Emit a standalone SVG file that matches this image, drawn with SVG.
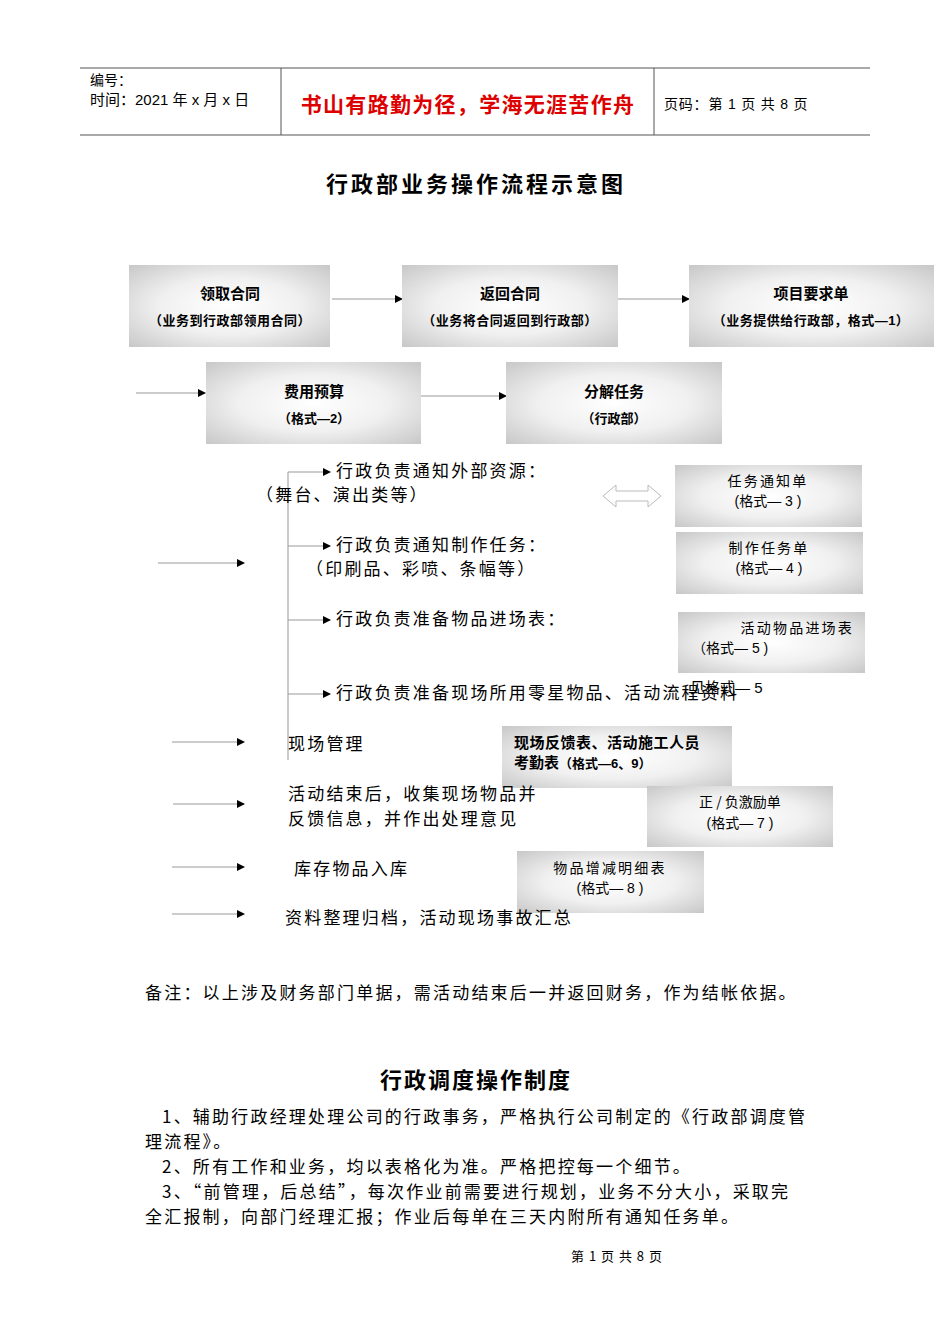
<svg xmlns="http://www.w3.org/2000/svg" width="950" height="1344" viewBox="0 0 950 1344">
<style>
text{font-family:"Noto Sans CJK SC","Liberation Serif",serif;fill:#000}
.t{letter-spacing:2.2px}
.b{font-weight:bold}
.s{font-family:"Liberation Sans","Noto Sans CJK SC",sans-serif}
.ln{stroke:#999;stroke-width:1;fill:none}
.box{fill:url(#g)}
</style>
<defs>
<radialGradient id="g" cx="0.5" cy="0.5" r="0.7">
<stop offset="0" stop-color="#ffffff"/><stop offset="0.5" stop-color="#f0f0f0"/><stop offset="1" stop-color="#c8c8c8"/>
</radialGradient>
<marker id="a" markerWidth="8" markerHeight="8" refX="7" refY="4" orient="auto" markerUnits="userSpaceOnUse"><path d="M0,0 L8,4 L0,8z" fill="#000"/></marker>
</defs>
<rect width="950" height="1344" fill="#fff"/>
<g id="header">
<line x1="80" y1="68" x2="870" y2="68" stroke="#555"/>
<line x1="80" y1="135" x2="870" y2="135" stroke="#555"/>
<line x1="281" y1="68" x2="281" y2="135" stroke="#555"/>
<line x1="654" y1="68" x2="654" y2="135" stroke="#555"/>
<text x="90" y="85" font-size="14" class="s">编号：</text>
<text x="90" y="105" font-size="15" class="s">时间：2021 年 x 月 x 日</text>
<text x="468" y="112" font-size="21" text-anchor="middle" class="s b" style="fill:#d00;letter-spacing:1.3px">书山有路勤为径，学海无涯苦作舟</text>
<text x="664" y="109" font-size="14" class="s" style="letter-spacing:0.8px">页码：第 1 页  共 8 页</text>
</g>
<text x="476" y="192" font-size="22" text-anchor="middle" class="s b" style="letter-spacing:3px">行政部业务操作流程示意图</text>
<g id="connectors">
<line class="ln" x1="332" y1="299" x2="402" y2="299" marker-end="url(#a)"/>
<line class="ln" x1="618" y1="299" x2="689" y2="299" marker-end="url(#a)"/>
<line class="ln" x1="136" y1="393" x2="205" y2="393" marker-end="url(#a)"/>
<line class="ln" x1="421" y1="396" x2="506" y2="396" marker-end="url(#a)"/>
<line class="ln" x1="288" y1="472" x2="288" y2="760"/>
<line class="ln" x1="288" y1="472" x2="330" y2="472" marker-end="url(#a)"/>
<line class="ln" x1="288" y1="546" x2="330" y2="546" marker-end="url(#a)"/>
<line class="ln" x1="288" y1="620" x2="330" y2="620" marker-end="url(#a)"/>
<line class="ln" x1="288" y1="694" x2="330" y2="694" marker-end="url(#a)"/>
<line class="ln" x1="158" y1="563" x2="244" y2="563" marker-end="url(#a)"/>
<line class="ln" x1="172" y1="742" x2="244" y2="742" marker-end="url(#a)"/>
<line class="ln" x1="173" y1="804" x2="244" y2="804" marker-end="url(#a)"/>
<line class="ln" x1="172" y1="867" x2="244" y2="867" marker-end="url(#a)"/>
<line class="ln" x1="172" y1="914" x2="244" y2="914" marker-end="url(#a)"/>
<path d="M603,496 L616,485 L616,491 L648,491 L648,485 L661,496 L648,507 L648,501 L616,501 L616,507 Z" fill="#fff" stroke="#bbb"/>
</g>
<g id="n1"><rect class="box" x="129" y="265" width="201" height="82"/><text x="230" y="299" font-size="15" text-anchor="middle" class="s b">领取合同</text><text x="230" y="325" font-size="13" text-anchor="middle" class="s b" style="letter-spacing:0.5px">（业务到行政部领用合同）</text></g>
<g id="n2"><rect class="box" x="402" y="265" width="216" height="82"/><text x="510" y="299" font-size="15" text-anchor="middle" class="s b">返回合同</text><text x="510" y="325" font-size="13" text-anchor="middle" class="s b" style="letter-spacing:0.5px">（业务将合同返回到行政部）</text></g>
<g id="n3"><rect class="box" x="689" y="265" width="245" height="82"/><text x="811" y="299" font-size="15" text-anchor="middle" class="s b">项目要求单</text><text x="811" y="325" font-size="13" text-anchor="middle" class="s b" style="letter-spacing:0.5px">（业务提供给行政部，格式—1）</text></g>
<g id="n4"><rect class="box" x="206" y="362" width="215" height="82"/><text x="314" y="397" font-size="15" text-anchor="middle" class="s b">费用预算</text><text x="314" y="423" font-size="13" text-anchor="middle" class="s b">（格式—2）</text></g>
<g id="n5"><rect class="box" x="506" y="362" width="216" height="82"/><text x="614" y="397" font-size="15" text-anchor="middle" class="s b">分解任务</text><text x="614" y="423" font-size="13" text-anchor="middle" class="s b">（行政部）</text></g>
<g id="t1"><text x="336" y="477" font-size="17" class="t">行政负责通知外部资源：</text><text x="256" y="501" font-size="17" class="t">（舞台、演出类等）</text></g>
<g id="t2"><text x="306" y="551" font-size="17" class="t"><tspan x="336">行政负责通知制作任务：</tspan></text><text x="306" y="575" font-size="17" class="t">（印刷品、彩喷、条幅等）</text></g>
<g id="t3"><text x="336" y="625" font-size="17" class="t">行政负责准备物品进场表：</text></g>
<g id="t4"><text x="336" y="699" font-size="17" class="t">行政负责准备现场所用零星物品、活动流程资料</text><text x="690" y="693" font-size="15" class="s">见格式— 5</text></g>
<g id="b3"><rect class="box" x="675" y="465" width="187" height="62"/><text x="768" y="486" font-size="14" text-anchor="middle" class="t">任务通知单</text><text x="768" y="506" font-size="14" text-anchor="middle" class="s">(格式— 3 )</text></g>
<g id="b4"><rect class="box" x="676" y="532" width="187" height="62"/><text x="769" y="553" font-size="14" text-anchor="middle" class="t">制作任务单</text><text x="769" y="573" font-size="14" text-anchor="middle" class="s">(格式— 4 )</text></g>
<g id="b5"><rect class="box" x="678" y="612" width="187" height="61"/><text x="854" y="633" font-size="14" text-anchor="end" class="t">活动物品进场表</text><text x="692" y="653" font-size="14" class="s">（格式— 5 )</text></g>
<g id="t5"><text x="288" y="750" font-size="17" class="t">现场管理</text></g>
<g id="b6"><rect class="box" x="502" y="726" width="230" height="62"/><text x="514" y="748" font-size="15" class="s b" style="letter-spacing:0.5px">现场反馈表、活动施工人员</text><text x="514" y="768" font-size="15" class="s b">考勤表<tspan font-size="13">（格式—6、9）</tspan></text></g>
<g id="t6"><text x="288" y="800" font-size="17" class="t">活动结束后，收集现场物品并</text><text x="288" y="825" font-size="17" class="t">反馈信息，并作出处理意见</text></g>
<g id="b7"><rect class="box" x="647" y="786" width="186" height="61"/><text x="740" y="807" font-size="14" text-anchor="middle">正 / 负激励单</text><text x="740" y="828" font-size="14" text-anchor="middle" class="s">(格式— 7 )</text></g>
<g id="t7"><text x="294" y="875" font-size="17" class="t">库存物品入库</text></g>
<g id="b8"><rect class="box" x="517" y="851" width="187" height="62"/><text x="610" y="873" font-size="14" text-anchor="middle" class="t">物品增减明细表</text><text x="610" y="893" font-size="14" text-anchor="middle" class="s">(格式— 8 )</text></g>
<g id="t8"><text x="285" y="924" font-size="17" class="t">资料整理归档，活动现场事故汇总</text></g>
<text x="145" y="999" font-size="17" class="t">备注：以上涉及财务部门单据，需活动结束后一并返回财务，作为结帐依据。</text>
<text x="476" y="1088" font-size="22" text-anchor="middle" class="s b" style="letter-spacing:2px">行政调度操作制度</text>
<text x="162" y="1123" font-size="17" class="t">1、辅助行政经理处理公司的行政事务，严格执行公司制定的《行政部调度管</text>
<text x="145" y="1148" font-size="17" class="t">理流程》。</text>
<text x="162" y="1173" font-size="17" class="t">2、所有工作和业务，均以表格化为准。严格把控每一个细节。</text>
<text x="162" y="1198" font-size="17" class="t">3、“前管理，后总结”，每次作业前需要进行规划，业务不分大小，采取完</text>
<text x="145" y="1223" font-size="17" class="t">全汇报制，向部门经理汇报；作业后每单在三天内附所有通知任务单。</text>
<text x="617" y="1261" font-size="13" text-anchor="middle" style="letter-spacing:1px">第  1  页  共  8  页</text>
</svg>
